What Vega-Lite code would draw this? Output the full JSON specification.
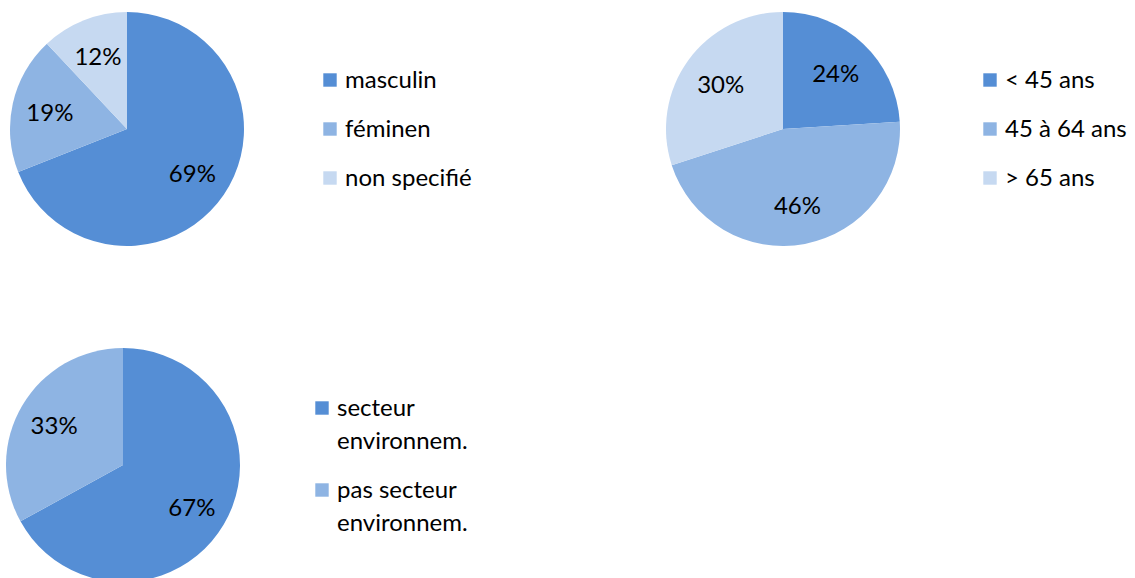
{
  "$schema": "https://vega.github.io/schema/vega-lite/v6.json",
  "background": "white",
  "padding": {"left": 6, "top": 12, "right": 0, "bottom": 0},
  "bounds": "flush",
  "columns": 2,
  "spacing": {"row": 102, "column": 418},
  "config": {
    "view": {"stroke": null},
    "font": "Lato",
    "style": {"guide-label": {"lineHeight": 33, "dy": -11}},
    "legend": {
      "orient": "none",
      "title": null,
      "padding": 0,
      "symbolType": "square",
      "symbolSize": 180,
      "symbolStrokeWidth": 0,
      "labelFont": "Lato",
      "labelFontSize": 24,
      "labelColor": "#000000",
      "labelBaseline": "top",
      "labelOffset": 3,
      "labelLimit": 400,
      "rowPadding": 24
    }
  },
  "resolve": {"scale": {"color": "independent", "theta": "independent"}, "legend": {"color": "independent"}},
  "concat": [
    {
      "width": 242,
      "height": 234,
      "data": {"values": [
        {"cat": "masculin", "value": 0.69, "ord": 1},
        {"cat": "féminen", "value": 0.19, "ord": 2},
        {"cat": "non specifié", "value": 0.12, "ord": 3}
      ]},
      "encoding": {
        "theta": {"field": "value", "type": "quantitative", "stack": true},
        "order": {"field": "ord", "type": "quantitative", "sort": "ascending"}
      },
      "layer": [
        {"mark": {"type": "arc", "outerRadius": 117, "stroke": null},
         "encoding": {"color": {
           "field": "cat", "type": "nominal",
           "scale": {"domain": ["masculin", "féminen", "non specifié"], "range": ["#558ED5", "#8EB4E3", "#C6D9F1"]},
           "legend": {"legendX": 312, "legendY": 56}
         }}},
        {"mark": {"type": "text", "radius": 79, "dy": 2, "fontSize": 24, "font": "Lato", "color": "#000000"},
         "encoding": {"text": {"field": "value", "type": "quantitative", "format": ".0%"}}}
      ]
    },
    {
      "width": 234,
      "height": 234,
      "data": {"values": [
        {"cat": "< 45 ans", "value": 0.24, "ord": 1},
        {"cat": "45 à 64 ans", "value": 0.46, "ord": 2},
        {"cat": "> 65 ans", "value": 0.30, "ord": 3}
      ]},
      "encoding": {
        "theta": {"field": "value", "type": "quantitative", "stack": true},
        "order": {"field": "ord", "type": "quantitative", "sort": "ascending"}
      },
      "layer": [
        {"mark": {"type": "arc", "outerRadius": 117, "stroke": null},
         "encoding": {"color": {
           "field": "cat", "type": "nominal",
           "scale": {"domain": ["< 45 ans", "45 à 64 ans", "> 65 ans"], "range": ["#558ED5", "#8EB4E3", "#C6D9F1"]},
           "legend": {"legendX": 312, "legendY": 56}
         }}},
        {"mark": {"type": "text", "radius": 77, "dy": 2, "fontSize": 24, "font": "Lato", "color": "#000000"},
         "encoding": {"text": {"field": "value", "type": "quantitative", "format": ".0%"}}}
      ]
    },
    {
      "width": 234,
      "height": 234,
      "data": {"values": [
        {"cat": "secteur environnem.", "value": 0.67, "ord": 1},
        {"cat": "pas secteur environnem.", "value": 0.33, "ord": 2}
      ]},
      "encoding": {
        "theta": {"field": "value", "type": "quantitative", "stack": true},
        "order": {"field": "ord", "type": "quantitative", "sort": "ascending"}
      },
      "layer": [
        {"mark": {"type": "arc", "outerRadius": 117, "stroke": null},
         "encoding": {"color": {
           "field": "cat", "type": "nominal",
           "scale": {"domain": ["secteur environnem.", "pas secteur environnem."], "range": ["#558ED5", "#8EB4E3"]},
           "legend": {
             "legendX": 304, "legendY": 48,
             "labelExpr": "[slice(datum.label, 0, lastindexof(datum.label, ' ')), slice(datum.label, lastindexof(datum.label, ' ') + 1)]",
             "rowPadding": 24
           }
         }}},
        {"mark": {"type": "text", "radius": 80, "dy": 3, "fontSize": 24, "font": "Lato", "color": "#000000"},
         "encoding": {"text": {"field": "value", "type": "quantitative", "format": ".0%"}}}
      ]
    }
  ]
}
